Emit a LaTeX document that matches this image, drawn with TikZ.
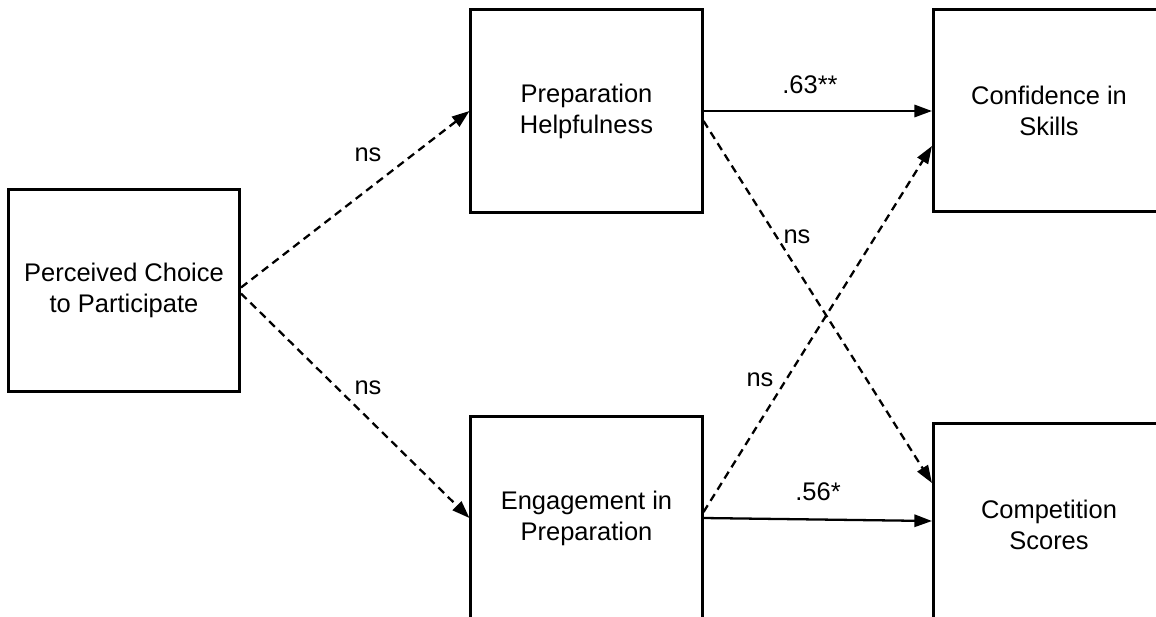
\documentclass[tikz,border=0pt]{standalone}
\usepackage{fontspec}
\setmainfont{Liberation Sans}
\usetikzlibrary{arrows.meta}
\tikzset{
  varbox/.style={draw, line width=1.5pt, minimum width=4.63cm, minimum height=4.05cm, align=center, font=\fontsize{14.5}{17.6}\selectfont},
  path/.style={line width=1.3pt, -{Triangle[length=10pt, width=7pt]}},
  nspath/.style={path, dash pattern=on 4.5pt off 3pt},
  coef/.style={font=\fontsize{14.5}{17}\selectfont}
}

\begin{document}
\begin{tikzpicture}[x=0.02cm, y=-0.02cm]%Path Model
    \useasboundingbox (0, 0) rectangle (1156, 616);
    \clip (0, 0) rectangle (1156, 616);
    %the boxes
    \node[varbox] (choice) at (124, 290.5) {Perceived Choice\\to Participate};
    \node[varbox] (help) at (586.5, 111) {Preparation\\Helpfulness};
    \node[varbox] (engage) at (586.5, 518) {Engagement in\\Preparation};
    \node[varbox] (conf) at (1049, 110.5) {Confidence in\\Skills};
    \node[varbox] (comp) at (1049, 525) {Competition\\Scores};
    %the arrows
    \draw[nspath] ([yshift=0.06cm]choice.east) -- (help.west);
    \draw[nspath] ([yshift=-0.06cm]choice.east) -- (engage.west);
    \draw[path] (help.east) -- (help.east -| conf.west);
    \draw[nspath] ([yshift=-0.2cm]help.east) -- ([yshift=0.84cm]comp.west);
    \draw[nspath] ([yshift=0.12cm]engage.east) -- ([yshift=-0.71cm]conf.west);
    \draw[path] (engage.east) -- ([yshift=0.08cm]comp.west);
    %the labels
    \path (368, 155) node[coef] (ns1) {ns} (368, 388) node[coef] (ns2) {ns}
        (810, 85) node[coef] (b1) {.63**} (797, 237) node[coef] (ns3) {ns}
        (760, 380) node[coef] (ns4) {ns} (818, 492) node[coef] (b2) {.56*};
\end{tikzpicture}
\end{document}
